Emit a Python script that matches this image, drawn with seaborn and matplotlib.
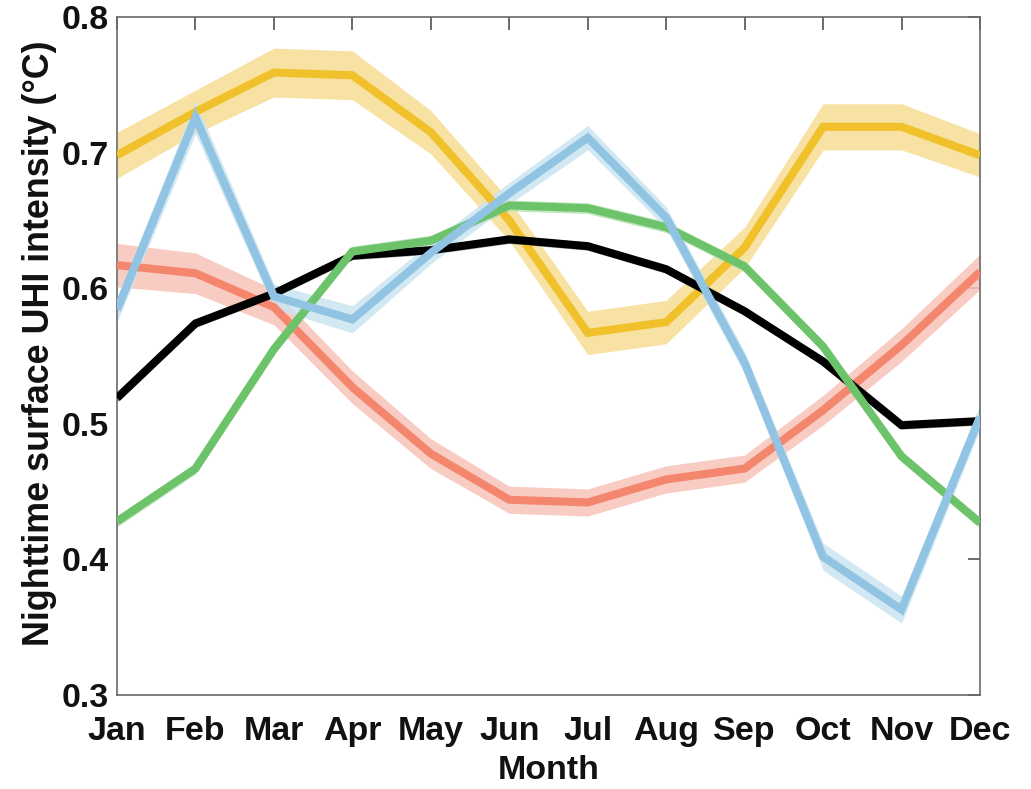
import numpy as np
import pandas as pd
import matplotlib
matplotlib.use("Agg")
import matplotlib.pyplot as plt
import seaborn as sns

months = ["Jan", "Feb", "Mar", "Apr", "May", "Jun",
          "Jul", "Aug", "Sep", "Oct", "Nov", "Dec"]

# Monthly mean nighttime surface UHI intensity (°C) and band half-widths
yellow = [0.698, 0.730, 0.759, 0.757, 0.715, 0.650, 0.567, 0.575, 0.630, 0.719, 0.719, 0.698]
yellow_err = [0.017, 0.016, 0.018, 0.018, 0.016, 0.015, 0.016, 0.016, 0.015, 0.017, 0.017, 0.016]

red = [0.617, 0.611, 0.586, 0.527, 0.478, 0.444, 0.442, 0.459, 0.467, 0.510, 0.558, 0.612]
red_err = [0.016, 0.015, 0.013, 0.012, 0.011, 0.010, 0.010, 0.010, 0.010, 0.011, 0.012, 0.013]

green = [0.428, 0.467, 0.555, 0.627, 0.635, 0.661, 0.659, 0.645, 0.616, 0.557, 0.476, 0.427]
green_err = [0.004] * 12

black = [0.519, 0.574, 0.596, 0.624, 0.628, 0.636, 0.631, 0.614, 0.583, 0.546, 0.499, 0.502]
black_err = [0.003] * 12

blue = [0.584, 0.726, 0.594, 0.577, 0.626, 0.670, 0.711, 0.652, 0.545, 0.402, 0.363, 0.505]
blue_err = [0.009, 0.012, 0.009, 0.010, 0.008, 0.008, 0.009, 0.008, 0.008, 0.010, 0.010, 0.009]

series = {
    "yellow": (yellow, yellow_err, "#F0C12B", "#F7DD93"),
    "red": (red, red_err, "#F4866D", "#F7C3B8"),
    "black": (black, black_err, "#000000", "#9A9A9A"),
    "green": (green, green_err, "#6CC36A", "#B8E2B6"),
    "blue": (blue, blue_err, "#91C4E2", "#CBE4F2"),
}

rows = []
for name, (vals, errs, _, _) in series.items():
    for i, (v, e) in enumerate(zip(vals, errs)):
        rows.append({"month": i, "value": v, "lo": v - e, "hi": v + e, "series": name})
df = pd.DataFrame(rows)

sns.set_theme(style="white")
plt.rcParams["font.family"] = ["Liberation Sans", "DejaVu Sans"]
plt.rcParams["font.weight"] = "bold"

FS = 24.5

fig = plt.figure(figsize=(10.31, 7.89), dpi=100)
ax = fig.add_axes([0.1135, 0.1191, 0.8370, 0.8594])

# shaded uncertainty bands first, then the lines on top
for name, (vals, errs, line_c, band_c) in series.items():
    sub = df[df["series"] == name]
    ax.fill_between(sub["month"], sub["lo"], sub["hi"], color=band_c,
                    alpha=0.85, linewidth=0, zorder=1)

palette = {k: v[2] for k, v in series.items()}
sns.lineplot(data=df, x="month", y="value", hue="series", palette=palette,
             hue_order=list(series.keys()), linewidth=5.8, legend=False,
             ax=ax, zorder=3)
for ln in ax.lines:
    ln.set_solid_joinstyle("miter")
    ln.set_solid_capstyle("butt")

ax.set_xlim(0, 11)
ax.set_ylim(0.3, 0.8)
ax.set_xticks(range(12))
ax.set_xticklabels(months)
ax.set_yticks([0.3, 0.4, 0.5, 0.6, 0.7, 0.8])
ax.set_yticklabels(["0.3", "0.4", "0.5", "0.6", "0.7", "0.8"])

ax.tick_params(axis="both", which="both", direction="in", length=9, width=1.1,
               color="#444444", top=True, right=True, labelsize=FS,
               labelcolor="#111111")
ax.tick_params(axis="x", pad=15)
ax.tick_params(axis="y", pad=6)
for sp in ax.spines.values():
    sp.set_visible(True)
    sp.set_color("#6a6a6a")
    sp.set_linewidth(1.2)

ax.set_xlabel("Month", fontsize=FS, fontweight="bold", color="#111111", labelpad=6)
ax.set_ylabel("Nighttime surface UHI intensity (°C)", fontsize=25.8,
              fontweight="bold", color="#111111")
ax.yaxis.set_label_coords(-0.069, 0.519)
ax.grid(False)

fig.savefig("out.png", dpi=100)
